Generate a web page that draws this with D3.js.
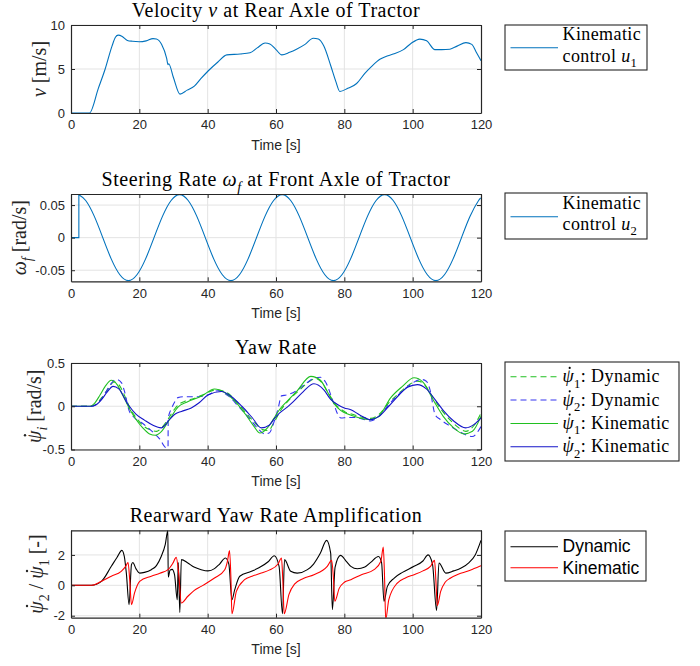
<!DOCTYPE html>
<html>
<head>
<meta charset="utf-8">
<style>
body { margin: 0; background: #fff; }
text { font-family: "Liberation Sans", Arial, sans-serif; }
.serif { font-family: "Liberation Serif", "Times New Roman", serif; }
</style>
</head>
<body>
<script src="https://d3js.org/d3.v7.min.js"></script>
<script>
// ---- data ----
var xTicks = [0, 20, 40, 60, 80, 100, 120]

// velocity v at rear axle [m/s]
var velT = [0, 5.4, 8, 10, 12, 13, 13.8, 15, 16.5, 18, 20, 22, 24, 25, 26.5, 28, 28.4, 28.6, 30, 31.9, 34, 36.1, 38, 40.2, 43, 45.6, 49.5, 52.4, 54.5, 56.8, 58.2, 60, 61.7, 64, 66, 68.5, 70.9, 72.4, 74, 76, 77.5, 78.7, 81, 83.6, 86, 88, 90.4, 92, 94.3, 97.3, 99.5, 102.1, 104.1, 106.5, 108.5, 110.9, 113, 115.6, 117.3, 118.5, 120]
var velV = [0, 0, 2.8, 5.0, 7.6, 8.6, 8.85, 8.7, 8.25, 8.15, 8.1, 8.2, 8.45, 8.4, 7.8, 6.2, 5.5, 5.6, 4.0, 2.15, 2.6, 3.05, 3.9, 4.8, 5.8, 6.6, 6.7, 6.85, 7.4, 7.95, 7.85, 7.2, 6.6, 6.9, 7.25, 7.8, 8.5, 8.4, 7.6, 5.4, 3.6, 2.45, 2.8, 3.35, 4.5, 5.3, 6.1, 6.4, 6.7, 7.2, 7.9, 8.4, 8.2, 7.2, 7.2, 7.25, 7.6, 8.0, 7.8, 7.0, 5.95]
var velTicks = [0, 5, 10]

// steering rate at front axle [rad/s]
var steerStepT = [0, 2.3, 2.3]
var steerStepV = [0, 0, 0.066]
var steerT = [2.3, 4.3, 6.8, 9.3, 11.8, 14.3, 16.8, 19.3, 21.8, 24.3, 26.8, 29.3, 31.8, 34.3, 36.8, 39.3, 41.8, 44.3, 46.8, 49.3, 51.8, 54.3, 56.8, 59.3, 61.8, 64.3, 66.8, 69.3, 71.8, 74.3, 76.8, 79.3, 81.8, 84.3, 86.8, 89.3, 91.8, 94.3, 96.8, 99.3, 101.8, 104.3, 106.8, 109.3, 111.8, 114.3, 116.8, 119.3, 120]
var steerV = [0.066, 0.057, 0.033, 0, -0.033, -0.057, -0.066, -0.057, -0.033, 0, 0.033, 0.057, 0.066, 0.057, 0.033, 0, -0.033, -0.057, -0.066, -0.057, -0.033, 0, 0.033, 0.057, 0.066, 0.057, 0.033, 0, -0.033, -0.057, -0.066, -0.057, -0.033, 0, 0.033, 0.057, 0.066, 0.057, 0.033, 0, -0.033, -0.057, -0.066, -0.057, -0.033, 0, 0.033, 0.057, 0.060]
var steerTicks = [-0.05, 0, 0.05]

// yaw rates [rad/s]
var yaw1DynT = [0, 6, 7.5, 9, 10.5, 12.6, 14, 15.5, 17, 19, 21, 23, 25, 26.5, 28.4, 30, 31.5, 33.5, 36, 39, 42.5, 45.5, 48.5, 51.5, 54, 56, 57.8, 59.5, 61.5, 64, 67, 69.5, 71.6, 73.5, 75.5, 77.5, 80, 83, 85.5, 87.7, 90, 93, 96, 99, 101.4, 103.5, 105.5, 108, 111, 113.5, 115.5, 118, 120]
var yaw1DynV = [0, 0, 0.03, 0.1, 0.18, 0.28, 0.25, 0.14, 0.0, -0.13, -0.22, -0.27, -0.29, -0.25, -0.15, -0.05, 0.02, 0.06, 0.09, 0.14, 0.19, 0.16, 0.05, -0.09, -0.2, -0.27, -0.28, -0.18, -0.04, 0.08, 0.19, 0.28, 0.32, 0.27, 0.14, 0.02, -0.06, -0.1, -0.13, -0.14, -0.1, 0.04, 0.15, 0.25, 0.29, 0.25, 0.13, -0.02, -0.16, -0.25, -0.29, -0.22, -0.08]
var yaw2DynT = [0, 6, 8, 10, 11.5, 13.3, 14.8, 15.6, 17, 18.5, 21, 24, 26, 27.9, 28.4, 28.45, 29.5, 30.5, 31.3, 33, 35, 37.2, 40, 43, 46, 49, 52, 54.5, 56.7, 58, 59.5, 60.6, 61.6, 63, 66, 69, 71.5, 73, 74.5, 76.5, 78.3, 79, 81, 82.9, 85.5, 87.7, 90, 93, 96, 99, 102.4, 104, 105, 106.6, 108, 111, 114, 117.4, 120]
var yaw2DynV = [0, 0, 0.04, 0.15, 0.25, 0.31, 0.27, 0.18, -0.05, -0.13, -0.2, -0.3, -0.38, -0.48, -0.48, -0.14, -0.02, 0.06, 0.1, 0.11, 0.11, 0.11, 0.13, 0.18, 0.12, 0.0, -0.13, -0.25, -0.32, -0.31, -0.17, -0.03, 0.12, 0.13, 0.18, 0.27, 0.33, 0.335, 0.28, 0.08, -0.11, -0.135, -0.13, -0.13, -0.15, -0.17, -0.12, 0.02, 0.14, 0.24, 0.31, 0.29, 0.2, -0.1, -0.15, -0.23, -0.3, -0.35, -0.235]
var yaw1KinT = [0, 5.5, 7, 8.5, 10, 11.8, 13.5, 15, 17, 19, 21, 23, 24.7, 26.5, 28.9, 31.3, 34, 38.1, 42, 45, 48, 51, 53.5, 55.3, 57.5, 59.4, 61, 63.3, 66, 70.2, 73, 75, 77, 79, 81, 84, 87.7, 90, 93.6, 97, 100.4, 103, 106.2, 109, 112, 115, 117.5, 120]
var yaw1KinV = [0, 0, 0.04, 0.13, 0.23, 0.30, 0.25, 0.14, -0.02, -0.15, -0.25, -0.32, -0.335, -0.29, -0.15, -0.01, 0.05, 0.115, 0.20, 0.16, 0.06, -0.09, -0.23, -0.31, -0.25, -0.14, -0.04, 0.06, 0.17, 0.345, 0.30, 0.17, 0.03, -0.05, -0.09, -0.13, -0.155, -0.12, 0.10, 0.23, 0.33, 0.28, 0.06, -0.12, -0.25, -0.32, -0.29, -0.115]
var yaw2KinT = [0, 6, 7.5, 9, 10.5, 12.3, 14, 16.7, 19, 21.5, 24, 26.4, 28.9, 30.5, 32.3, 35.2, 37.5, 40.1, 44, 47, 50, 53, 55.7, 58, 59.4, 61, 63.3, 65, 68, 71.1, 74, 76, 78, 80, 81.9, 84.5, 87.7, 90, 93, 96, 98.5, 101.4, 104, 106.5, 109, 112, 115.5, 118, 120]
var yaw2KinV = [0, 0, 0.02, 0.08, 0.16, 0.23, 0.20, 0.02, -0.09, -0.16, -0.22, -0.25, -0.15, -0.09, -0.06, -0.02, 0.04, 0.13, 0.17, 0.11, 0.00, -0.13, -0.25, -0.22, -0.15, -0.08, -0.01, 0.05, 0.17, 0.26, 0.19, 0.08, 0.02, -0.02, -0.04, -0.10, -0.155, -0.12, 0.00, 0.13, 0.22, 0.25, 0.20, 0.08, -0.05, -0.17, -0.25, -0.21, -0.135]
var yawTicks = [-0.5, 0, 0.5]

// rearward yaw rate amplification [-]
var ampDynT = [0, 6, 8.9, 11.8, 13.5, 14.9, 15.6, 16.2, 17, 17.7, 18.1, 19, 20.1, 21.5, 23.5, 25, 26.4, 27.6, 28.35, 28.45, 29, 29.6, 30.3, 31.1, 31.4, 31.85, 32.3, 34.2, 36, 38.1, 40.1, 42, 43.5, 45.2, 46.2, 47.1, 47.9, 49.4, 52.8, 55, 57.7, 59.5, 60.9, 61.9, 62.5, 64.3, 66.2, 69.2, 71, 73, 74.8, 76, 76.5, 77.3, 78.9, 80.5, 81.9, 83.8, 86, 87.7, 90, 90.9, 91.6, 92.6, 94.6, 97, 100.4, 103, 104.5, 105.8, 107, 107.7, 109.7, 112, 114.2, 116.5, 118.3, 120]
var ampDynV = [0, 0, 0.26, 1.25, 1.85, 2.3, 1.9, 0.8, -1.27, 1.36, 1.5, 1.1, 0.8, 0.85, 1.03, 1.3, 1.9, 2.7, 3.6, 0.55, 1.0, 1.05, 0.7, -0.95, 1.5, -1.78, 1.69, 1.47, 1.2, 1.03, 0.95, 1.1, 1.4, 1.8, 1.4, -0.95, -0.3, 0.6, 0.92, 1.15, 1.55, 1.95, 1.25, -1.87, 1.69, 0.92, 0.8, 1.03, 1.4, 2.12, 2.96, 2.12, -1.6, 1.2, 1.97, 1.6, 1.25, 1.09, 1.2, 1.51, 1.9, 1.5, -1.05, -0.07, 0.48, 0.85, 1.25, 1.6, 2.0, 1.4, -1.65, 1.47, 0.8, 0.95, 1.14, 1.5, 2.0, 2.96]
var ampKinT = [0, 6, 8.9, 11.8, 14.7, 16, 16.7, 17.2, 17.7, 18.6, 20.1, 23.5, 26, 28.4, 29.8, 30.8, 31.5, 32.3, 34.2, 36, 38.1, 42, 45, 45.8, 46.4, 46.8, 47.1, 48.4, 50.8, 53, 55.7, 58, 60.6, 61.6, 62, 62.4, 63.8, 65.5, 68, 71.1, 75, 76.3, 76.8, 77.2, 78.5, 80, 81.9, 85, 88.7, 90.7, 91.4, 91.8, 92.1, 93, 95.5, 98, 100.4, 103, 105.2, 106.4, 106.8, 107.2, 108.2, 109.5, 111.1, 113.5, 116, 118, 120]
var ampKinV = [0, 0, 0.26, 0.6, 0.92, 1.25, 1.5, 0.3, -1.27, -0.5, 0.26, 0.6, 0.8, 1.03, 1.45, 1.84, 0.8, -1.16, -0.72, -0.35, -0.07, 0.48, 1.03, 1.6, 2.28, 0.5, -1.87, -0.4, 0.37, 0.6, 0.81, 1.0, 1.4, 1.8, 0.3, -1.87, -0.6, 0.1, 0.45, 0.7, 1.25, 1.64, 0.5, -1.05, -0.2, 0.2, 0.37, 0.7, 1.03, 1.58, 2.52, 0.3, -2.26, -0.95, 0.15, 0.5, 0.7, 0.95, 1.25, 1.64, 0.3, -1.34, -0.4, 0.2, 0.48, 0.75, 0.92, 1.1, 1.29]
var ampTicks = [-2, 0, 2]

// ---- layout ----
var svgWidth = 700
var svgHeight = 666
var plotLeft = 71
var plotRight = 481
var axisColor = '#262626'
var gridColor = '#e3e3e3'
var blue = '#0072bd'
var green = '#20c020'
var blueDash = '#3535f0'
var blueSolid = '#1414c8'

var svg = d3.select('body').append('svg')
	.attr('width', svgWidth)
	.attr('height', svgHeight)

var x = d3.scaleLinear().domain([0, 120]).range([plotLeft, plotRight])

// writes a text made of parts: {t, it, sub}; every psi gets a dot on top
function rich(g, t, parts, size) {
	var shift = 0
	parts.forEach(function(p) {
		var ts = t.append('tspan').text(p.t)
		if (p.it) ts.attr('font-style', 'italic')
		var want = p.sub ? size * 0.3 : 0
		if (want != shift) { ts.attr('dy', want - shift); shift = want }
		if (p.sub) ts.attr('font-size', size * 0.7)
	})
	var node = t.node()
	var str = node.textContent
	for (var i = 0; i < str.length; i++) {
		if (str[i] != 'ψ') continue
		var ext = node.getExtentOfChar(i)
		var st = node.getStartPositionOfChar(i)
		g.append('circle')
			.attr('cx', ext.x + ext.width * 0.62)
			.attr('cy', st.y - size * 0.8)
			.attr('r', size * 0.06)
			.attr('fill', t.attr('fill'))
	}
}

function panel(id, top, bottom, yDomain, yTicks) {
	var y = d3.scaleLinear().domain(yDomain).range([bottom, top])
	var g = svg.append('g')

	svg.append('clipPath').attr('id', 'clip' + id)
		.append('rect')
		.attr('x', plotLeft).attr('y', top)
		.attr('width', plotRight - plotLeft).attr('height', bottom - top)

	// grid
	g.selectAll('.gx').data(xTicks.slice(1, -1)).enter().append('line')
		.attr('x1', function(d) { return x(d) }).attr('x2', function(d) { return x(d) })
		.attr('y1', top).attr('y2', bottom)
		.attr('stroke', gridColor)
	g.selectAll('.gy').data(yTicks).enter().append('line')
		.attr('x1', plotLeft).attr('x2', plotRight)
		.attr('y1', function(d) { return y(d) }).attr('y2', function(d) { return y(d) })
		.attr('stroke', gridColor)

	var plot = svg.append('g').attr('clip-path', 'url(#clip' + id + ')')

	// axes with inward ticks
	var fmt = function(d) { return String(d) }
	var axes = svg.append('g')
	axes.append('g').attr('transform', 'translate(0,' + bottom + ')')
		.call(d3.axisBottom(x).tickValues(xTicks).tickSize(-4).tickSizeOuter(0).tickPadding(7).tickFormat(fmt))
	axes.append('g').attr('transform', 'translate(0,' + top + ')')
		.call(d3.axisTop(x).tickValues(xTicks).tickSize(-4).tickSizeOuter(0).tickFormat(''))
	axes.append('g').attr('transform', 'translate(' + plotLeft + ',0)')
		.call(d3.axisLeft(y).tickValues(yTicks).tickSize(-4).tickSizeOuter(0).tickPadding(6).tickFormat(fmt))
	axes.append('g').attr('transform', 'translate(' + plotRight + ',0)')
		.call(d3.axisRight(y).tickValues(yTicks).tickSize(-4).tickSizeOuter(0).tickFormat(''))
	axes.selectAll('.domain').attr('stroke', axisColor).attr('stroke-width', 1.2)
	axes.selectAll('.tick line').attr('stroke', axisColor)
	axes.selectAll('.tick text').attr('fill', axisColor)
		.style('font-family', '"Liberation Sans", Arial, sans-serif').style('font-size', '13px')

	svg.append('text').attr('x', (plotLeft + plotRight) / 2).attr('y', bottom + 36.5)
		.attr('text-anchor', 'middle').attr('fill', axisColor)
		.style('font-size', '14px').text('Time [s]')

	return { y: y, plot: plot, top: top, bottom: bottom }
}

function addLine(p, T, V, color, dash, curve) {
	var line = d3.line()
		.x(function(d) { return x(d[0]) })
		.y(function(d) { return p.y(d[1]) })
		.curve(curve || d3.curveMonotoneX)
	p.plot.append('path')
		.datum(d3.zip(T, V))
		.attr('d', line)
		.attr('fill', 'none')
		.attr('stroke', color)
		.attr('stroke-width', 1.1)
		.attr('stroke-dasharray', dash || null)
}

function title(yBase, parts) {
	var g = svg.append('g')
	var t = g.append('text').attr('class', 'serif')
		.attr('x', (plotLeft + plotRight) / 2).attr('y', yBase)
		.attr('text-anchor', 'middle').attr('fill', '#000')
		.style('font-size', '20px').style('letter-spacing', '0.55px')
	rich(g, t, parts, 20)
}

function ylabel(p, cx, parts) {
	var cy = (p.top + p.bottom) / 2
	var g = svg.append('g').attr('transform', 'translate(' + cx + ',' + cy + ') rotate(-90)')
	var t = g.append('text').attr('class', 'serif')
		.attr('text-anchor', 'middle').attr('y', 7).attr('fill', axisColor)
		.style('font-size', '20px')
	rich(g, t, parts, 20)
}

function legend(x0, y0, x1, y1, rows, serif) {
	svg.append('rect').attr('x', x0).attr('y', y0)
		.attr('width', x1 - x0).attr('height', y1 - y0)
		.attr('fill', '#fff').attr('stroke', axisColor).attr('stroke-width', 1.1)
	rows.forEach(function(r) {
		if (r.color) {
			svg.append('line').attr('x1', 510.5).attr('x2', 558).attr('y1', r.ly).attr('y2', r.ly)
				.attr('stroke', r.color).attr('stroke-width', 1.1)
				.attr('stroke-dasharray', r.dash || null)
		}
		var g = svg.append('g')
		var t = g.append('text').attr('x', 562.5).attr('y', r.ty).attr('fill', '#000')
		if (serif) {
			t.attr('class', 'serif').style('font-size', '18px').style('letter-spacing', '0.4px')
		} else {
			t.style('font-size', '17.5px')
		}
		rich(g, t, r.parts, serif ? 18 : 17.5)
	})
}

var psi = 'ψ'

// ---- panel 1: velocity ----
var p1 = panel(1, 25, 113, [0, 10], velTicks)
addLine(p1, velT, velV, blue)
title(17, [{ t: 'Velocity ' }, { t: 'v', it: true }, { t: ' at Rear Axle of Tractor' }])
ylabel(p1, 39, [{ t: 'v', it: true }, { t: ' [m/s]' }])
legend(505, 25, 647, 70, [
	{ ty: 40, parts: [{ t: 'Kinematic' }] },
	{ ty: 61.5, ly: 47.7, color: blue, parts: [{ t: 'control ' }, { t: 'u', it: true }, { t: '1', sub: true }] }
], true)

// ---- panel 2: steering rate ----
var p2 = panel(2, 194, 281.3, [-0.067, 0.067], steerTicks)
addLine(p2, steerStepT, steerStepV, blue, null, d3.curveLinear)
addLine(p2, steerT, steerV, blue, null, d3.curveNatural)
title(186, [{ t: 'Steering Rate ' }, { t: 'ω', it: true }, { t: 'f', it: true, sub: true }, { t: ' at Front Axle of Tractor' }])
ylabel(p2, 19, [{ t: 'ω', it: true }, { t: 'f', it: true, sub: true }, { t: ' [rad/s]' }])
legend(505, 193, 647, 239, [
	{ ty: 209, parts: [{ t: 'Kinematic' }] },
	{ ty: 230, ly: 216.7, color: blue, parts: [{ t: 'control ' }, { t: 'u', it: true }, { t: '2', sub: true }] }
], true)

// ---- panel 3: yaw rate ----
var p3 = panel(3, 363, 449.5, [-0.5, 0.5], yawTicks)
addLine(p3, yaw1DynT, yaw1DynV, green, '6,4')
addLine(p3, yaw2DynT, yaw2DynV, blueDash, '6,4')
addLine(p3, yaw1KinT, yaw1KinV, green)
addLine(p3, yaw2KinT, yaw2KinV, blueSolid)
title(353.5, [{ t: 'Yaw Rate' }])
ylabel(p3, 34, [{ t: psi, it: true }, { t: 'i', it: true, sub: true }, { t: ' [rad/s]' }])
legend(505, 362, 679, 461, [
	{ ty: 382.3, ly: 376.7, color: green, dash: '6,4', parts: [{ t: psi, it: true }, { t: '1', sub: true }, { t: ':  Dynamic' }] },
	{ ty: 405.7, ly: 400, color: blueDash, dash: '6,4', parts: [{ t: psi, it: true }, { t: '2', sub: true }, { t: ':  Dynamic' }] },
	{ ty: 429, ly: 423.5, color: green, parts: [{ t: psi, it: true }, { t: '1', sub: true }, { t: ':  Kinematic' }] },
	{ ty: 452.3, ly: 446.7, color: blueSolid, parts: [{ t: psi, it: true }, { t: '2', sub: true }, { t: ':  Kinematic' }] }
], true)

// ---- panel 4: amplification ----
var p4 = panel(4, 530.3, 617.7, [-2.13, 3.62], ampTicks)
addLine(p4, ampDynT, ampDynV, '#000')
addLine(p4, ampKinT, ampKinV, '#ff0000')
title(522.3, [{ t: 'Rearward Yaw Rate Amplification' }])
ylabel(p4, 36, [{ t: psi, it: true }, { t: '2', sub: true }, { t: ' / ' }, { t: psi, it: true }, { t: '1', sub: true }, { t: ' [-]' }])
legend(505, 531, 646, 581, [
	{ ty: 552, ly: 546.7, color: '#000', parts: [{ t: 'Dynamic' }] },
	{ ty: 574, ly: 567.7, color: '#ff0000', parts: [{ t: 'Kinematic' }] }
], false)
</script>
</body>
</html>
